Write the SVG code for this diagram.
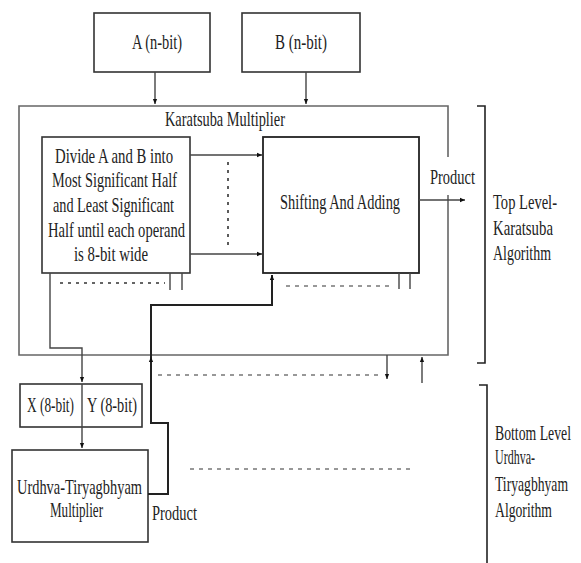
<svg xmlns="http://www.w3.org/2000/svg" width="581" height="563" viewBox="0 0 581 563">
<defs>
<marker id="ah" viewBox="0 0 8 8" refX="7" refY="4" markerWidth="6" markerHeight="6" orient="auto" markerUnits="userSpaceOnUse">
<path d="M0,1 L7,4 L0,7 Z" fill="#111"/>
</marker>
<style>
.box{fill:#fff;stroke:#333;stroke-width:1.6}
.outer{fill:none;stroke:#666;stroke-width:1.6}
.ln{fill:none;stroke:#444;stroke-width:1.4}
.thick{fill:none;stroke:#222;stroke-width:2}
.dot{fill:none;stroke:#333;stroke-width:1.6;stroke-dasharray:3 5}
.dash{fill:none;stroke:#777;stroke-width:1.4;stroke-dasharray:4 5}
.br{fill:none;stroke:#222;stroke-width:1.6}
text{font-family:"Liberation Serif","Times New Roman",serif;font-size:21px;fill:#222}
</style>
</defs>
<rect width="581" height="563" fill="#fff"/>

<g id="outer">
<path class="outer" d="M448,157 V106 H19 V355 H448 V195"/>
<text transform="translate(165,126) scale(0.683,1)" textLength="175.7" lengthAdjust="spacingAndGlyphs">Karatsuba Multiplier</text>
</g>

<g id="nodeA">
<rect class="box" x="94" y="13" width="116" height="59"/>
<text transform="translate(132,49) scale(0.675,1)" textLength="74.1" lengthAdjust="spacingAndGlyphs">A (n-bit)</text>
</g>

<g id="nodeB">
<rect class="box" x="242" y="13" width="118" height="59"/>
<text transform="translate(275,49) scale(0.713,1)" textLength="72.9" lengthAdjust="spacingAndGlyphs">B (n-bit)</text>
</g>

<g id="divide">
<rect class="box" x="42" y="137" width="148" height="136"/>
<text transform="translate(55,163) scale(0.693,1)" textLength="170.3" lengthAdjust="spacingAndGlyphs">Divide A and B into</text>
<text transform="translate(52,187) scale(0.682,1)" textLength="183.3" lengthAdjust="spacingAndGlyphs">Most Significant Half</text>
<text transform="translate(53,212) scale(0.678,1)" textLength="178.5" lengthAdjust="spacingAndGlyphs">and Least Significant</text>
<text transform="translate(48,237) scale(0.693,1)" textLength="197.7" lengthAdjust="spacingAndGlyphs">Half until each operand</text>
<text transform="translate(74,261) scale(0.705,1)" textLength="105" lengthAdjust="spacingAndGlyphs">is 8-bit wide</text>
</g>

<g id="shift">
<rect class="box" x="263" y="137" width="156" height="136" style="stroke:#222;stroke-width:1.8"/>
<text transform="translate(280,209) scale(0.677,1)" textLength="177.3" lengthAdjust="spacingAndGlyphs">Shifting And Adding</text>
</g>

<g id="xy">
<rect class="box" x="20" y="384" width="122" height="43"/>
<text transform="translate(27,412) scale(0.634,1)" textLength="74.1" lengthAdjust="spacingAndGlyphs">X (8-bit)</text>
<text transform="translate(87,412) scale(0.675,1)" textLength="74.1" lengthAdjust="spacingAndGlyphs">Y (8-bit)</text>
</g>

<g id="urdhva">
<rect class="box" x="12" y="450" width="136" height="92"/>
<text transform="translate(17,494) scale(0.683,1)" textLength="183" lengthAdjust="spacingAndGlyphs">Urdhva-Tiryagbhyam</text>
<text transform="translate(50,517) scale(0.622,1)" textLength="85.2" lengthAdjust="spacingAndGlyphs">Multiplier</text>
</g>

<g id="labels">
<text transform="translate(430,184) scale(0.689,1)" textLength="65.3" lengthAdjust="spacingAndGlyphs">Product</text>
<text transform="translate(152,520) scale(0.689,1)" textLength="65.3" lengthAdjust="spacingAndGlyphs">Product</text>
<text transform="translate(493,209) scale(0.68,1)" textLength="94.1" lengthAdjust="spacingAndGlyphs">Top Level-</text>
<text transform="translate(493,235) scale(0.705,1)" textLength="85.1" lengthAdjust="spacingAndGlyphs">Karatsuba</text>
<text transform="translate(493,260) scale(0.663,1)" textLength="87.5" lengthAdjust="spacingAndGlyphs">Algorithm</text>
<text transform="translate(495,440) scale(0.655,1)" textLength="116" lengthAdjust="spacingAndGlyphs">Bottom Level</text>
<text transform="translate(495,464) scale(0.571,1)" textLength="70" lengthAdjust="spacingAndGlyphs">Urdhva-</text>
<text transform="translate(495,491) scale(0.645,1)" textLength="113.2" lengthAdjust="spacingAndGlyphs">Tiryagbhyam</text>
<text transform="translate(495,517) scale(0.663,1)" textLength="86" lengthAdjust="spacingAndGlyphs">Algorithm</text>
</g>

<g id="brackets">
<path class="br" d="M477,106 H485 V363 H477"/>
<path class="br" d="M479,385 H487 V563"/>
</g>

<g id="connectors">
<path class="ln" d="M155,72 V104" marker-end="url(#ah)"/>
<path class="ln" d="M306,72 V104" marker-end="url(#ah)"/>
<path class="ln" d="M190,155 H262" marker-end="url(#ah)"/>
<path class="ln" d="M190,254 H262" marker-end="url(#ah)"/>
<path class="ln" d="M419,200 H465" marker-end="url(#ah)"/>
<path class="dot" d="M228,162 V246"/>
<path class="dot" d="M60,283 H165"/>
<path class="ln" d="M170,273 V290 M182,273 V290"/>
<path class="dash" d="M286,286 H390"/>
<path class="ln" d="M399,273 V289 M410,273 V289"/>
<path class="ln" d="M50,273 V348 H82 V382" marker-end="url(#ah)"/>
<path class="ln" d="M82,384 V448" marker-end="url(#ah)"/>
<path class="thick" d="M148,494 H168 V423 H151 V357" marker-end="url(#ah)"/>
<path class="thick" d="M151,357 V305 H272 V275" marker-end="url(#ah)"/>
<path class="dash" d="M158,375 H382"/>
<path class="ln" d="M387,355 V379" marker-end="url(#ah)"/>
<path class="ln" d="M422,383 V357" marker-end="url(#ah)"/>
<path class="dash" d="M190,469 H413"/>
</g>
</svg>
